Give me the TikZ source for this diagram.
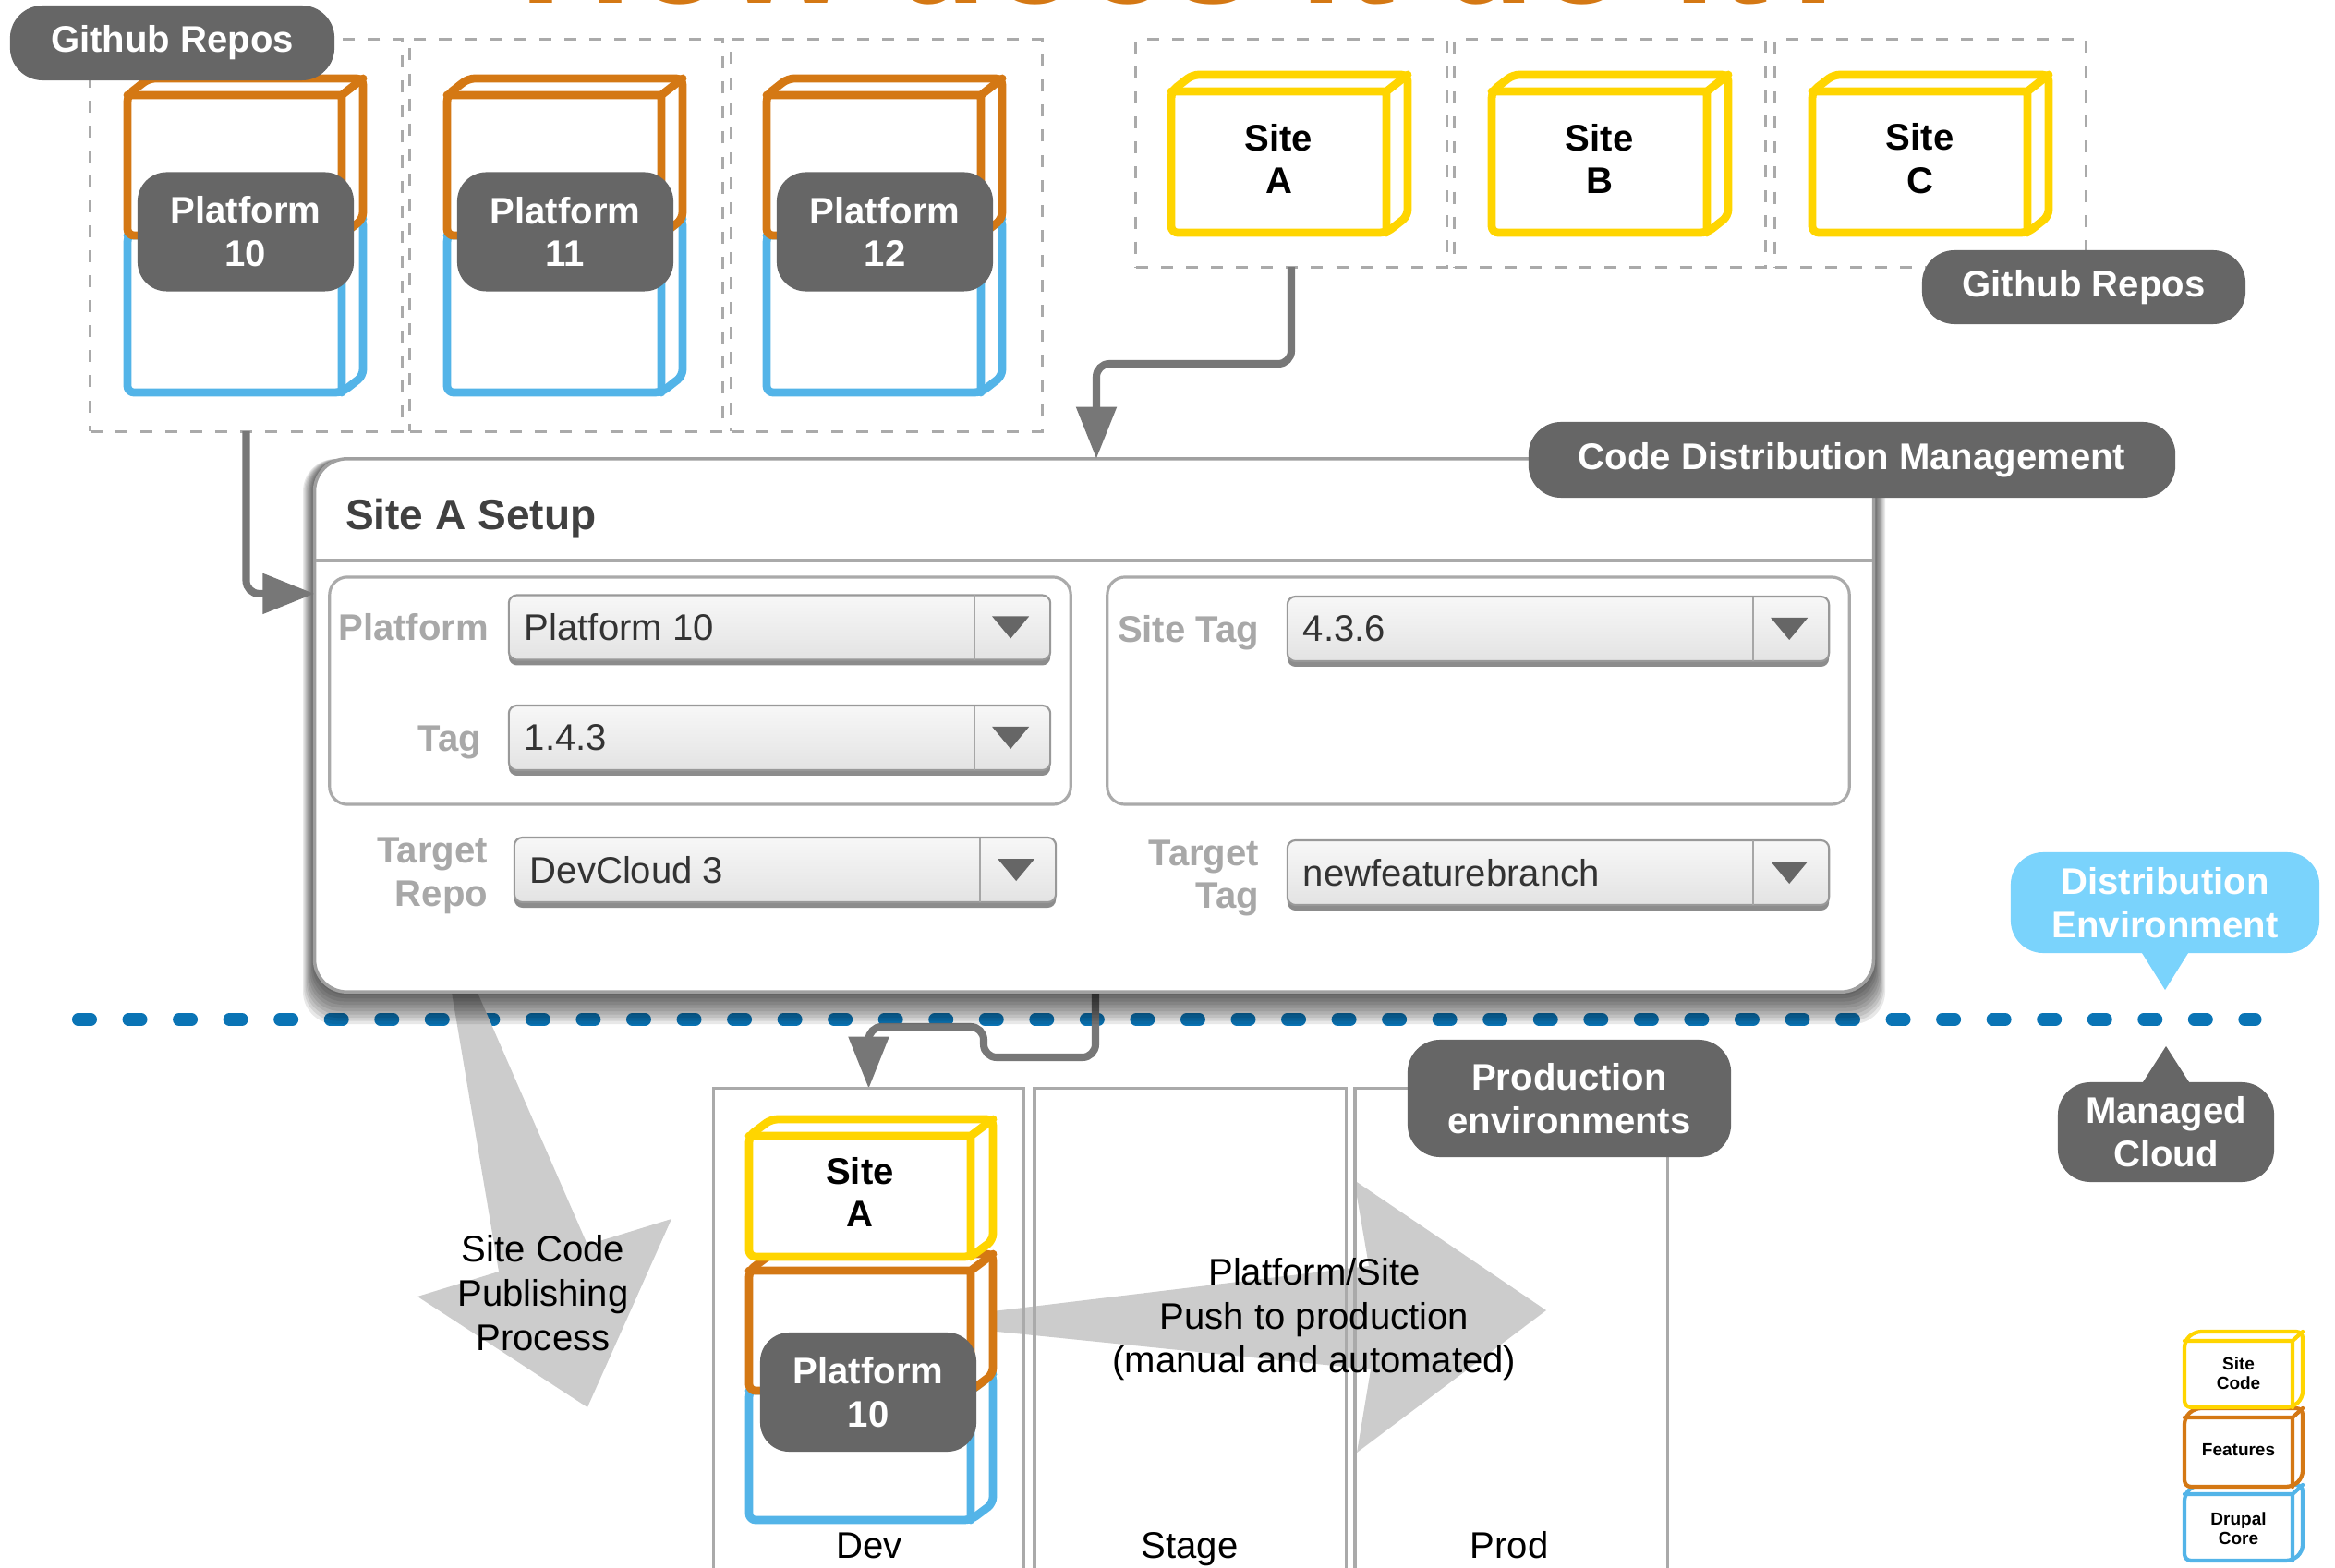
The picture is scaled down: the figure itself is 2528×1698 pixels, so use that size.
\documentclass[tikz,border=0pt]{standalone}
\usepackage{fontspec}
\setmainfont{Liberation Sans}
\usetikzlibrary{arrows.meta,shadows,calc}
\definecolor{cyel}{HTML}{FFD500}
\definecolor{corg}{HTML}{D47814}
\definecolor{cblu}{HTML}{53B4E8}
\definecolor{bubg}{HTML}{666666}
\definecolor{conng}{HTML}{777777}
\definecolor{dashg}{HTML}{AAAAAA}
\definecolor{bigarr}{HTML}{CCCCCC}
\definecolor{dotblue}{HTML}{0A74B5}
\definecolor{distblue}{HTML}{7AD3FC}
\definecolor{lblg}{HTML}{A8A8A8}
\definecolor{panelb}{HTML}{A0A0A0}
\definecolor{ddtxt}{HTML}{333333}
\pgfdeclarelayer{bg}
\pgfdeclarelayer{shadowlayer}
\pgfsetlayers{bg,shadowlayer,main}
\newcommand{\drawcube}[8]{%
  \filldraw[draw=#5, fill=white, line width=#6, line join=round, rounded corners=2pt]
    (#1,#2) -- (#1+#7,#2+#8) -- (#3+#7,#2+#8) -- (#3+#7,#4+#8) -- (#3,#4) -- (#1,#4) -- cycle;
  \draw[draw=#5, line width=#6, line join=round, line cap=round]
    (#1,#2) -- (#3,#2) -- (#3,#4) (#3,#2) -- (#3+#7,#2+#8);
}
\newcommand{\ddarrow}[1]{%
  \draw[draw=black!35, line width=0.6pt] ([xshift=-0.82cm]#1.north east) -- ([xshift=-0.82cm]#1.south east);
  \fill[bubg] ([xshift=-0.43cm]#1.east) ++(-20,-12) -- ++(40,0) -- ++(-20,24) -- cycle;
}
\begin{document}
\begin{tikzpicture}[x=0.01cm, y=-0.01cm,
  every node/.style={inner sep=0pt, outer sep=0pt},
  fN/.style={font=\fontsize{11.4}{13.3}\selectfont},
  fB/.style={font=\fontsize{11.4}{13.3}\selectfont\bfseries},
  bub/.style={fill=bubg, text=white, font=\fontsize{11.4}{13.3}\selectfont\bfseries, rounded corners=10pt, align=center},
  dbox/.style={draw=dashg, line width=0.85pt, dash pattern=on 3.7pt off 4pt},
  conn/.style={draw=conng, line width=2.3pt, rounded corners=4pt, -{Triangle[length=16pt,width=12pt]}},
  panel/.style={draw=panelb, line width=1pt, fill=white, rounded corners=10pt},
  grp/.style={draw=dashg, line width=0.9pt, rounded corners=5.5pt},
  dd/.style={draw=black!40, line width=0.6pt, rounded corners=2.5pt, top color=black!3, bottom color=black!11,
    drop shadow={shadow xshift=0pt, shadow yshift=-1.7pt, fill=black!45, opacity=1}, minimum width=5.86cm, minimum height=0.70cm},
  ddt/.style={font=\fontsize{11.4}{13.3}\selectfont, text=ddtxt, anchor=west},
  lbl/.style={font=\fontsize{11.4}{13.3}\selectfont\bfseries, text=lblg, align=right},
  col/.style={draw=dashg, line width=0.9pt, minimum height=5.41cm}
]
\useasboundingbox (0,0) rectangle (2528,1698);

% title (cut off by the top edge, as in the reference)
\node[anchor=base west, text=corg, font=\fontsize{48.1}{56}\selectfont\bfseries] (title) at (562,4) {How does it do it?};

% dashed repo boxes
\node[dbox, minimum width=3.37cm, minimum height=4.24cm] (pbox1) at (266.5,255) {};
\node[dbox, minimum width=3.38cm, minimum height=4.24cm] (pbox2) at (613,255) {};
\node[dbox, minimum width=3.36cm, minimum height=4.24cm] (pbox3) at (960,255) {};
\node[dbox, minimum width=3.36cm, minimum height=2.46cm] (sbox1) at (1398,166) {};
\node[dbox, minimum width=3.36cm, minimum height=2.46cm] (sbox2) at (1743,166) {};
\node[dbox, minimum width=3.36cm, minimum height=2.46cm] (sbox3) at (2090,166) {};

% platform stacks
\foreach \o/\n in {0/10,346/11,692/12}{
  \drawcube{138+\o}{255}{370+\o}{425}{cblu}{2.5pt}{23}{-18}
  \drawcube{138+\o}{103}{370+\o}{255}{corg}{2.5pt}{23}{-18}
  \node[bub, minimum width=2.34cm, minimum height=1.29cm, rounded corners=9pt] (plat\n) at (266+\o,251) {Platform\\\n};
}

% site boxes
\foreach \o/\n in {0/A,347/B,694/C}{
  \drawcube{1268+\o}{99}{1501+\o}{252}{cyel}{2.5pt}{23}{-18}
  \node[fB, align=center] (site\n) at (1384.5+\o,172) {Site\\\n};
}

\node[bub, minimum width=3.51cm, minimum height=0.81cm] (gh1) at (186.5,46.5) {Github Repos};
\node[bub, minimum width=3.50cm, minimum height=0.80cm] (gh2) at (2256,311) {Github Repos};

% panel shadow
\begin{pgfonlayer}{shadowlayer}
\foreach \i in {1,...,10}{
  \fill[black, opacity=0.09, rounded corners=10pt] (341-\i*1.3, 497) rectangle (2028+\i*1.3, 1074+\i*3.5);
}
\end{pgfonlayer}

% panel
\node[panel, minimum width=16.87cm, minimum height=5.77cm] (panel) at (1184.5,785.5) {};
\draw[draw=dashg, line width=0.9pt] (342,607) -- (2027,607);
\node[anchor=base west, font=\fontsize{13.1}{15}\selectfont\bfseries, text=black!75] (setuptitle) at (374,574) {Site A Setup};
\node[bub, minimum width=7.00cm, minimum height=0.82cm] (cdm) at (2005,498) {Code Distribution Management};

\node[grp, minimum width=8.02cm, minimum height=2.46cm] (grpL) at (758,748) {};
\node[grp, minimum width=8.03cm, minimum height=2.46cm] (grpR) at (1600.5,748) {};

\node[dd] (ddplat) at (844,679.5) {};
\node[dd] (ddtag) at (844,799) {};
\node[dd] (ddrepo) at (850,942) {};
\node[dd] (ddstag) at (1687,681) {};
\node[dd] (ddttag) at (1687,945) {};
\foreach \d in {ddplat,ddtag,ddrepo,ddstag,ddttag}{\ddarrow{\d}}
\node[ddt] (tplat) at ([xshift=0.17cm]ddplat.west) {Platform 10};
\node[ddt] (ttag) at ([xshift=0.17cm]ddtag.west) {1.4.3};
\node[ddt] (trepo) at ([xshift=0.17cm]ddrepo.west) {DevCloud 3};
\node[ddt] (tstag) at ([xshift=0.17cm]ddstag.west) {4.3.6};
\node[ddt] (tttag) at ([xshift=0.17cm]ddttag.west) {newfeaturebranch};

\node[lbl, anchor=base east] (lplat) at (529,694) {Platform};
\node[lbl, anchor=base east] (ltag) at (521,814) {Tag};
\node[lbl, anchor=east] (lrepo) at (528,948) {Target\\Repo};
\node[lbl, anchor=base east] (lstag) at (1363,696) {Site Tag};
\node[lbl, anchor=east] (lttag) at (1363,951) {Target\\Tag};

% connectors into panel
\coordinate (bendA) at (1187,394);
\draw[conn] (sbox1.south) |- (bendA) -- (bendA |- panel.north);
\draw[conn] (pbox1.south) |- ([yshift=-1.46cm]panel.north west);

% environment columns
\node[col, minimum width=3.35cm] (devcol) at (940.5,1449.5) {};
\node[col, minimum width=3.37cm] (stagecol) at (1288.5,1449.5) {};
\node[col, minimum width=3.38cm] (prodcol) at (1636,1449.5) {};
\node[fN, anchor=base] (devlbl) at (941,1687) {Dev};
\node[fN, anchor=base] (stagelbl) at (1288,1687) {Stage};
\node[fN, anchor=base] (prodlbl) at (1634,1687) {Prod};

% background layer: separator, big arrows, connector to dev
\coordinate (pd1) at (1186,1145);
\coordinate (pd2) at (1065,1145);
\coordinate (pd3) at (1065,1112);
\coordinate (pd4) at (940.5,1112);
\begin{pgfonlayer}{bg}
  \draw[dotblue, line width=3.7pt, line cap=round, dash pattern=on 3.98pt off 11.53pt] (84.5,1104) -- (2442,1104);
  \fill[bigarr] (486.5,1060) -- (540,1377) -- (452,1404) -- (636,1524) -- (727,1320) -- (636,1348) -- (510.5,1060) -- cycle;
  \fill[bigarr] (1050,1423) -- (1482,1371) -- (1466,1278) -- (1674,1419) -- (1469,1573) -- (1484,1483) -- (1050,1439) -- cycle;
  \draw[conn] (panel.south -| pd1) -- (pd1) -- (pd2) -- (pd3) -- (pd4) -- (devcol.north);
\end{pgfonlayer}

\node[font=\fontsize{11.4}{13.6}\selectfont, align=center] (pubtxt) at (588,1400) {Site Code\\Publishing\\Process};
\node[font=\fontsize{11.4}{13.5}\selectfont, align=center] (pushtxt) at (1423,1429) {Platform/Site\\Push to production\\(manual and automated)};

% dev stack
\drawcube{811}{1506}{1051}{1646}{cblu}{2.5pt}{24}{-18}
\drawcube{811}{1376}{1051}{1506}{corg}{2.5pt}{24}{-18}
\drawcube{811}{1230}{1051}{1361}{cyel}{2.5pt}{24}{-18}
\node[fB, align=center] (devsite) at (931,1291) {Site\\A};
\node[bub, minimum width=2.34cm, minimum height=1.29cm, rounded corners=9pt] (devplat) at (940,1507.5) {Platform\\10};

\node[bub, minimum width=3.50cm, minimum height=1.27cm] (prodenv) at (1699,1189.5) {Production\\environments};

% callouts
\node[bub, fill=distblue, minimum width=3.34cm, minimum height=1.09cm] (distenv) at (2344,977.5) {Distribution\\Environment};
\fill[distblue] ([xshift=-0.25cm]distenv.south) -- ([xshift=0.25cm]distenv.south) -- ([yshift=-0.40cm]distenv.south) -- cycle;
\node[bub, minimum width=2.34cm, minimum height=1.08cm] (managed) at (2345,1226) {Managed\\Cloud};
\fill[bubg] ([xshift=-0.25cm]managed.north) -- ([xshift=0.25cm]managed.north) -- ([yshift=0.39cm]managed.north) -- cycle;

% legend
\drawcube{2365}{1618}{2482}{1690}{cblu}{1.2pt}{11}{-10}
\drawcube{2365}{1535}{2482}{1610}{corg}{1.2pt}{11}{-10}
\drawcube{2365}{1452}{2482}{1524}{cyel}{1.2pt}{11}{-10}
\node[font=\fontsize{5.4}{6}\selectfont\bfseries, align=center] (legsite) at (2423.5,1487) {Site\\Code};
\node[font=\fontsize{5.4}{6}\selectfont\bfseries, align=center] (legfeat) at (2423.5,1570) {Features};
\node[font=\fontsize{5.4}{6}\selectfont\bfseries, align=center] (legcore) at (2423.5,1655) {Drupal\\Core};
\end{tikzpicture}
\end{document}
